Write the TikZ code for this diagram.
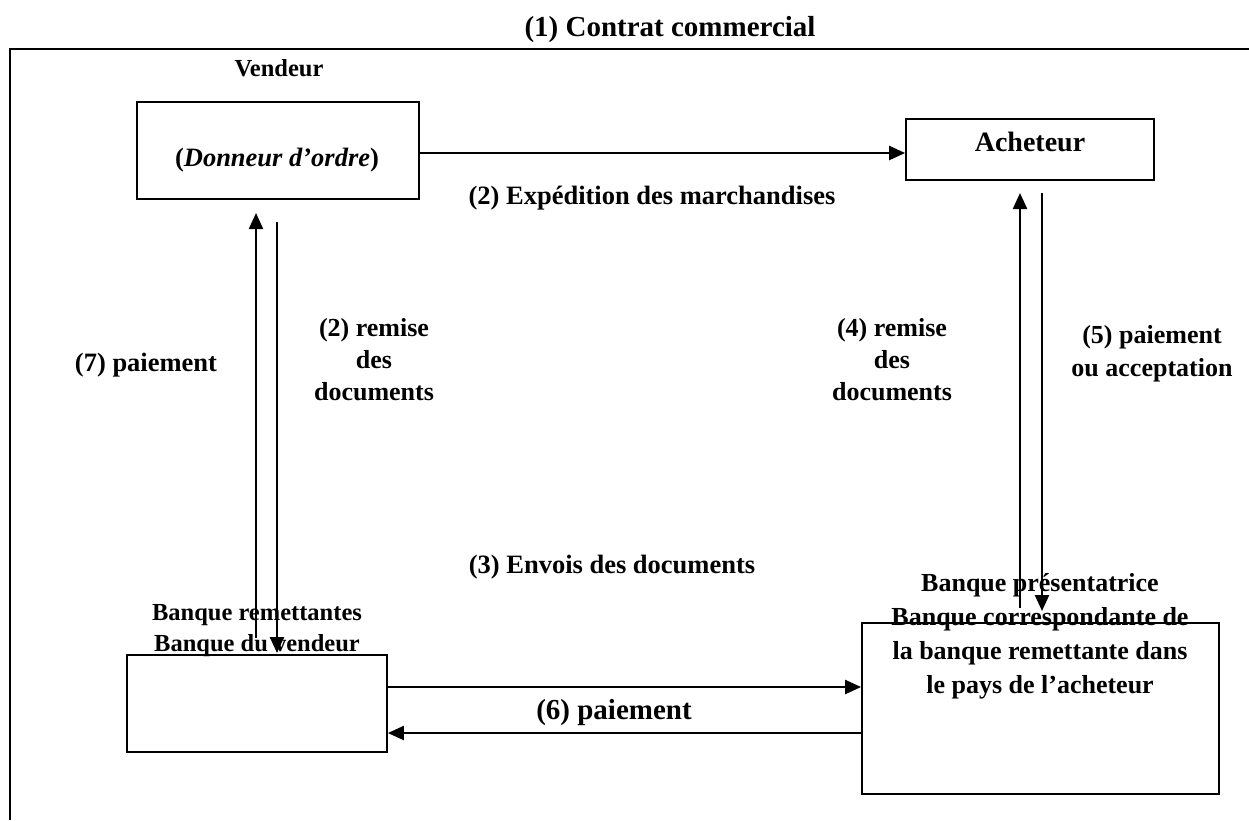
\documentclass[tikz,border=0pt]{standalone}
\usepackage{fontspec}
\setmainfont{Liberation Serif}
\usetikzlibrary{arrows.meta}
\begin{document}
\begin{tikzpicture}[x=1pt,y=-1pt,
  box/.style={draw, line width=1.8pt, inner sep=0pt},
  lbl/.style={font=\bfseries\fontsize{26.5}{32}\selectfont, align=center, inner sep=0pt},
  arr/.style={line width=2.3pt, -{Triangle[length=16pt,width=14pt]}}]
\useasboundingbox (0,0) rectangle (1249,820);
% frame
\coordinate (fbl) at (10,820);
\coordinate (ftl) at (10,49);
\coordinate (ftr) at (1249,49);
\draw[line width=2.3pt] (fbl) -- (ftl) -- (ftr);
% boxes
\node[box, minimum width=282pt, minimum height=97pt] (vend) at (278,150.5) {};
\node[box, minimum width=248pt, minimum height=61pt] (ach) at (1030,149.5) {};
\node[box, minimum width=260pt, minimum height=97pt] (bank1) at (257,703.5) {};
\node[box, minimum width=357pt, minimum height=171pt] (bank2) at (1040.5,708.5) {};
% texts
\node[lbl, font=\bfseries\fontsize{29}{34}\selectfont] (title) at (670,30) {(1) Contrat commercial};
\node[lbl, font=\bfseries\fontsize{24.5}{30}\selectfont] (vendlbl) at (279,68) {Vendeur};
\node[lbl] (donneur) at (277,160) {(\textit{Donneur d’ordre})};
\node[lbl, font=\bfseries\fontsize{28}{32}\selectfont] (achlbl) at (1030,142) {Acheteur};
\node[lbl] (exped) at (652,198) {(2) Expédition des marchandises};
\node[lbl] (p7) at (146,365) {(7) paiement};
\node[lbl, font=\bfseries\fontsize{26}{32}\selectfont] (rem2) at (374,360) {(2) remise\\des\\documents};
\node[lbl, font=\bfseries\fontsize{26}{32}\selectfont] (rem4) at (892,360) {(4) remise\\des\\documents};
\node[lbl, font=\bfseries\fontsize{26}{33}\selectfont] (p5) at (1152,353.5) {(5) paiement\\ou acceptation};
\node[lbl] (envoi) at (612,567) {(3) Envois des documents};
\node[lbl, font=\bfseries\fontsize{24.5}{31}\selectfont] (b1lbl) at (257,630.5) {Banque remettantes\\Banque du vendeur};
\node[lbl, font=\bfseries\fontsize{26}{34}\selectfont] (b2lbl) at (1040,636) {Banque présentatrice\\Banque correspondante de\\la banque remettante dans\\le pays de l’acheteur};
\node[lbl, font=\bfseries\fontsize{29}{34}\selectfont] (p6) at (614,713) {(6) paiement};
% arrow ends
\coordinate (u1s) at (256,638);
\coordinate (u1e) at (256,213);
\coordinate (d1s) at (277,222);
\coordinate (d1e) at (277,653);
\coordinate (u2s) at (1020,608);
\coordinate (u2e) at (1020,193);
\coordinate (d2s) at (1042,193);
\coordinate (d2e) at (1042,611);
% connectors
\draw[arr] (vend.east |- 0,153) -- (ach.west |- 0,153);
\draw[arr] (u1s) -- (u1e);
\draw[arr] (d1s) -- (d1e);
\draw[arr] (u2s) -- (u2e);
\draw[arr] (d2s) -- (d2e);
\draw[arr] (bank1.east |- 0,687) -- (bank2.west |- 0,687);
\draw[arr] (bank2.west |- 0,733) -- (bank1.east |- 0,733);
\end{tikzpicture}
\end{document}
